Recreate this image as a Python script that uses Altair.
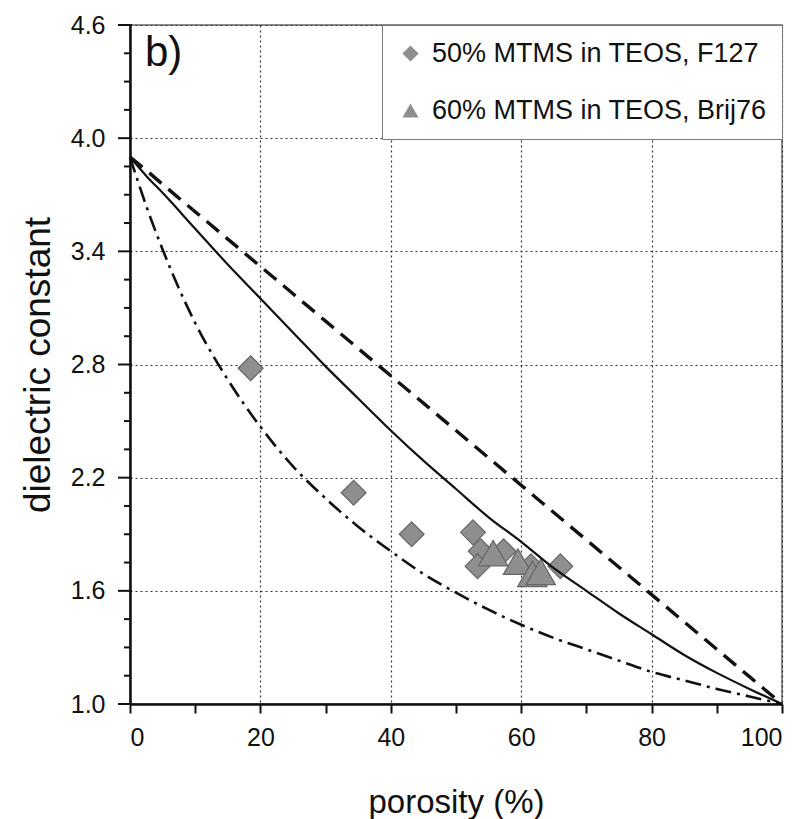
import altair as alt
import pandas as pd

# ---- data ----
porosity = [0, 2.5, 5, 10, 15, 20, 25, 30, 35, 40, 45, 50, 55, 60, 65, 70, 75, 80, 85, 90, 95, 100]
k_parallel = [3.90, 3.83, 3.755, 3.61, 3.465, 3.32, 3.175, 3.03, 2.885, 2.74, 2.595, 2.45, 2.305, 2.16, 2.015, 1.87, 1.725, 1.58, 1.435, 1.29, 1.145, 1.00]
k_bruggeman = [3.90, 3.80, 3.71, 3.52, 3.33, 3.15, 2.97, 2.79, 2.62, 2.45, 2.29, 2.14, 1.99, 1.86, 1.72, 1.60, 1.48, 1.37, 1.26, 1.165, 1.08, 1.00]
k_series = [3.90, 3.64, 3.41, 3.02, 2.72, 2.47, 2.26, 2.09, 1.94, 1.81, 1.69, 1.59, 1.50, 1.42, 1.35, 1.29, 1.23, 1.17, 1.125, 1.08, 1.04, 1.00]

f127_porosity = [18.5, 34.3, 43.2, 52.6, 53.8, 53.3, 57.3, 61.5, 66.0]
f127_k = [2.78, 2.12, 1.90, 1.91, 1.81, 1.73, 1.81, 1.73, 1.73]
brij_porosity = [55.7, 59.5, 61.7, 63.0]
brij_k = [1.80, 1.755, 1.69, 1.70]

series_names = ["50% MTMS in TEOS, F127", "60% MTMS in TEOS, Brij76"]
x_ticks = [0, 10, 20, 30, 40, 50, 60, 70, 80, 90, 100]
y_major = [1.0, 1.6, 2.2, 2.8, 3.4, 4.0, 4.6]
y_minor = [1.15, 1.3, 1.45, 1.75, 1.9, 2.05, 2.35, 2.5, 2.65, 2.95, 3.1, 3.25,
           3.55, 3.7, 3.85, 4.15, 4.3, 4.45]
panel_label = ["b)"]
panel_label_pos = [2.3, 4.38]

FONT = "Liberation Sans"

f127 = pd.DataFrame({"porosity": f127_porosity, "k": f127_k, "series": series_names[0]})
brij = pd.DataFrame({"porosity": brij_porosity, "k": brij_k, "series": series_names[1]})
curves = pd.DataFrame({
    "porosity": porosity,
    "parallel": k_parallel,
    "bruggeman": k_bruggeman,
    "series_model": k_series,
})
lab = pd.DataFrame({"x": [panel_label_pos[0]], "y": [panel_label_pos[1]], "t": panel_label})
ymaj = pd.DataFrame({"v": y_major})
ymin = pd.DataFrame({"v": y_minor})

xscale = alt.Scale(domain=[0, 100], nice=False, zero=False)
yscale = alt.Scale(domain=[1.0, 4.6], nice=False, zero=False)

x_major_test = "datum.value % 20 == 0"

main_x = alt.Axis(values=x_ticks, grid=True, gridDash=[2, 3], gridColor="#333", gridWidth=1.2,
                  gridOpacity={"condition": {"test": x_major_test, "value": 1}, "value": 0},
                  labelExpr=f"{x_major_test} ? datum.label : ''",
                  tickSize=9, tickWidth=2, tickColor="#111", domainColor="#111", domainWidth=2.5,
                  labelFont=FONT, labelFontSize=25, labelColor="#111", labelPadding=12,
                  title="porosity (%)", titleFont=FONT, titleFontSize=33, titleFontWeight="normal",
                  titleColor="#111", titlePadding=36, orient="bottom", format="d")
main_y = alt.Axis(values=y_major, grid=True, gridDash=[2, 3], gridColor="#333", gridWidth=1.2,
                  ticks=False, domainColor="#111", domainWidth=2.5, format=".1f",
                  labelFont=FONT, labelFontSize=25, labelColor="#111", labelPadding=25,
                  title="dielectric constant", titleFont=FONT, titleFontSize=37, titleFontWeight="normal",
                  titleColor="#111", titlePadding=13, orient="left")

shape_scale = alt.Scale(domain=series_names, range=["diamond", "triangle-up"])
legend = alt.Legend(title=None, orient="top-right", offset=0,
                    fillColor="white", strokeColor="#777",
                    padding=15, rowPadding=29, labelFont=FONT, labelFontSize=27,
                    labelColor="#111", labelOffset=8, symbolSize=260,
                    symbolFillColor="#8e8e8e", symbolStrokeColor="#666",
                    symbolStrokeWidth=1, labelLimit=500)

# y-axis tick marks (major ones longer, minor ones short)
ticks_major = alt.Chart(ymaj).mark_rule(color="#111", strokeWidth=2).encode(
    y=alt.Y("v:Q", scale=yscale), x=alt.value(-12), x2=alt.value(2),
)
ticks_minor = alt.Chart(ymin).mark_rule(color="#111", strokeWidth=2).encode(
    y=alt.Y("v:Q", scale=yscale), x=alt.value(-6), x2=alt.value(0),
)

pts_f127 = alt.Chart(f127).mark_point(filled=True, opacity=1, fill="#8e8e8e", stroke="#666", strokeWidth=1.2, size=620).encode(
    x=alt.X("porosity:Q", scale=xscale, axis=main_x),
    y=alt.Y("k:Q", scale=yscale, axis=main_y),
    shape=alt.Shape("series:N", scale=shape_scale, legend=legend),
)
pts_brij = alt.Chart(brij).mark_point(filled=True, opacity=1, fill="#8e8e8e", stroke="#666", strokeWidth=1.2, size=860).encode(
    x=alt.X("porosity:Q", scale=xscale),
    y=alt.Y("k:Q", scale=yscale),
    shape=alt.Shape("series:N", scale=shape_scale, legend=legend),
)

line_series = alt.Chart(curves).mark_line(color="#111", strokeWidth=2.6, strokeDash=[16, 6, 3, 6], interpolate="monotone").encode(
    x=alt.X("porosity:Q", scale=xscale),
    y=alt.Y("series_model:Q", scale=yscale),
)
line_brug = alt.Chart(curves).mark_line(color="#111", strokeWidth=2.2, interpolate="monotone").encode(
    x=alt.X("porosity:Q", scale=xscale),
    y=alt.Y("bruggeman:Q", scale=yscale),
)
line_par = alt.Chart(curves).mark_line(color="#111", strokeWidth=3.4, strokeDash=[16, 9]).encode(
    x=alt.X("porosity:Q", scale=xscale),
    y=alt.Y("parallel:Q", scale=yscale),
)
label = alt.Chart(lab).mark_text(font=FONT, fontSize=42, align="left", baseline="alphabetic", color="#111").encode(
    x=alt.X("x:Q", scale=xscale),
    y=alt.Y("y:Q", scale=yscale),
    text="t:N",
)

chart = alt.layer(pts_f127, pts_brij, line_series, line_brug, line_par, label,
                  ticks_major, ticks_minor).properties(
    width=652, height=679,
    padding={"left": 130, "top": 25, "right": 29, "bottom": 115},
    autosize=alt.AutoSizeParams(type="none"),
    background="white",
).configure_view(stroke="#666", strokeWidth=1.5)

chart.save("out.html", embed_options={"renderer": "svg", "actions": False})
